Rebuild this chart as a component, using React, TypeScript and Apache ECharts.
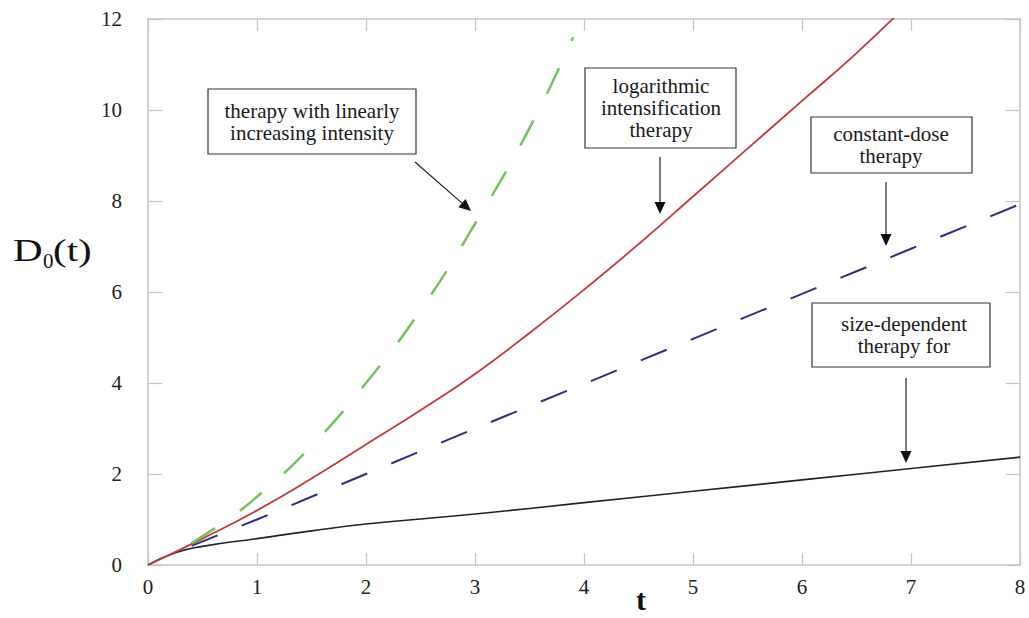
import React, { useEffect, useRef } from "react";
import * as echarts from "echarts";

// ---- data ----
const xTicks = [0, 1, 2, 3, 4, 5, 6, 7, 8];
const yTicks = [0, 2, 4, 6, 8, 10, 12];

// therapy with linearly increasing intensity (green dashed)
const linearT = [0.4, 0.7, 1.0, 1.5, 2.0, 2.5, 3.0, 3.5, 3.9];
const linearD = [0.48, 0.95, 1.5, 2.62, 4.0, 5.6, 7.5, 9.6, 11.6];

// logarithmic intensification therapy (red solid)
const logT = [0, 0.5, 1, 1.5, 2, 2.5, 3, 3.5, 4, 4.5, 5, 5.5, 6, 6.5, 7];
const logD = [0, 0.58, 1.2, 1.9, 2.65, 3.4, 4.2, 5.1, 6.05, 7.05, 8.1, 9.15, 10.2, 11.25, 12.4];

// constant-dose therapy (blue dashed)
const constT = [0.4, 1, 2, 3, 4, 5, 6, 7, 8];
const constD = [0.42, 1.0, 2.0, 3.0, 3.98, 4.97, 5.96, 6.95, 7.93];

// size-dependent therapy (black solid)
const sizeT = [0, 0.25, 0.5, 1, 1.5, 2, 3, 4, 5, 6, 7, 8];
const sizeD = [0, 0.27, 0.41, 0.58, 0.75, 0.9, 1.12, 1.37, 1.62, 1.87, 2.12, 2.37];

const pairs = (xs: number[], ys: number[]) => xs.map((x, i) => [x, ys[i]]);

const SERIF = "'Liberation Serif', 'Times New Roman', Times, serif";

export default function App() {
  const ref = useRef<HTMLDivElement>(null);
  useEffect(() => {
    if (!ref.current) return;
    const chart = echarts.init(ref.current, null, { renderer: "svg" });

    const axisGrey = "#c4c4c4";
    const box = (x: number, y: number, w: number, h: number) => ({
      type: "rect",
      shape: { x, y, width: w, height: h },
      style: { fill: "#fff", stroke: "#333", lineWidth: 1.2 },
      z: 10,
    });
    const label = (cx: number, cy: number, text: string) => ({
      type: "text",
      x: cx,
      y: cy,
      z: 11,
      style: {
        text,
        fill: "#1a1a1a",
        fontFamily: SERIF,
        fontSize: 21,
        align: "center",
        verticalAlign: "middle",
        lineHeight: 22,
      },
    });
    const arrow = (x1: number, y1: number, x2: number, y2: number) => {
      const dx = x2 - x1;
      const dy = y2 - y1;
      const len = Math.sqrt(dx * dx + dy * dy);
      const ux = dx / len;
      const uy = dy / len;
      const hl = 12;
      const hw = 5.5;
      const bx = x2 - ux * hl;
      const by = y2 - uy * hl;
      return [
        {
          type: "line",
          z: 10,
          shape: { x1, y1, x2: bx, y2: by },
          style: { stroke: "#222", lineWidth: 1.2 },
        },
        {
          type: "polygon",
          z: 10,
          shape: {
            points: [
              [x2, y2],
              [bx - uy * hw, by + ux * hw],
              [bx + uy * hw, by - ux * hw],
            ],
          },
          style: { fill: "#111" },
        },
      ];
    };

    chart.setOption({
      animation: false,
      backgroundColor: "#fff",
      textStyle: { fontFamily: SERIF },
      grid: { left: 148, right: 9, top: 19, bottom: 53, containLabel: false },
      xAxis: [
        {
          type: "value",
          min: xTicks[0],
          max: xTicks[xTicks.length - 1],
          interval: 1,
          axisLine: { show: true, onZero: false, lineStyle: { color: axisGrey, width: 1.5 } },
          axisTick: { show: true, inside: true, length: 12, lineStyle: { color: axisGrey, width: 1.2 } },
          axisLabel: {
            color: "#222",
            fontFamily: SERIF,
            fontSize: 21,
            margin: 11,
          },
          splitLine: { show: false },
        },
        {
          type: "value",
          position: "top",
          min: xTicks[0],
          max: xTicks[xTicks.length - 1],
          interval: 1,
          axisLine: { show: true, onZero: false, lineStyle: { color: axisGrey, width: 1.5 } },
          axisTick: { show: true, inside: true, length: 12, lineStyle: { color: axisGrey, width: 1.2 } },
          axisLabel: { show: false },
          splitLine: { show: false },
        },
      ],
      yAxis: [
        {
          type: "value",
          min: yTicks[0],
          max: yTicks[yTicks.length - 1],
          interval: 2,
          axisLine: { show: true, onZero: false, lineStyle: { color: axisGrey, width: 1.5 } },
          axisTick: { show: true, inside: true, length: 14, lineStyle: { color: axisGrey, width: 1.2 } },
          axisLabel: {
            color: "#222",
            fontFamily: SERIF,
            fontSize: 21,
            margin: 26,
          },
          splitLine: { show: false },
        },
        {
          type: "value",
          position: "right",
          min: yTicks[0],
          max: yTicks[yTicks.length - 1],
          interval: 2,
          axisLine: { show: true, onZero: false, lineStyle: { color: axisGrey, width: 1.5 } },
          axisTick: { show: true, inside: true, length: 14, lineStyle: { color: axisGrey, width: 1.2 } },
          axisLabel: { show: false },
          splitLine: { show: false },
        },
      ],
      series: [
        {
          name: "size-dependent therapy",
          type: "line",
          data: pairs(sizeT, sizeD),
          showSymbol: false,
          smooth: true,
          lineStyle: { color: "#222", width: 1.6 },
          z: 3,
        },
        {
          name: "constant-dose therapy",
          type: "line",
          data: pairs(constT, constD),
          showSymbol: false,
          lineStyle: { color: "#2e2e80", width: 2, type: [28, 26] },
          z: 4,
        },
        {
          name: "logarithmic intensification therapy",
          type: "line",
          data: pairs(logT, logD),
          showSymbol: false,
          smooth: true,
          clip: true,
          lineStyle: { color: "#c23a3c", width: 1.8 },
          z: 5,
        },
        {
          name: "therapy with linearly increasing intensity",
          type: "line",
          data: pairs(linearT, linearD),
          showSymbol: false,
          smooth: true,
          lineStyle: { color: "#72c25e", width: 2.5, type: [28, 30] },
          z: 6,
        },
      ],
      graphic: [
        box(208, 89, 208, 65),
        label(312, 122, "therapy with linearly\nincreasing intensity"),
        ...arrow(415, 162, 471, 211),
        box(585, 68, 151, 80),
        label(661, 108, "logarithmic\nintensification\ntherapy"),
        ...arrow(660, 157, 660, 214),
        box(811, 117, 161, 56),
        label(891, 145, "constant-dose\ntherapy"),
        ...arrow(886, 182, 886, 246),
        box(812, 303, 178, 64),
        label(904, 335, "size-dependent\ntherapy for"),
        ...arrow(906, 378, 906, 463),
        {
          type: "text",
          x: 13,
          y: 250,
          scaleX: 1.28,
          style: { text: "D", fontFamily: SERIF, fontSize: 32, fill: "#111", verticalAlign: "middle" },
        },
        {
          type: "text",
          x: 43,
          y: 261,
          style: { text: "0", fontFamily: SERIF, fontSize: 21, fill: "#111", verticalAlign: "middle" },
        },
        {
          type: "text",
          x: 53,
          y: 250,
          scaleX: 1.28,
          style: { text: "(t)", fontFamily: SERIF, fontSize: 32, fill: "#111", verticalAlign: "middle" },
        },
        {
          type: "text",
          x: 641,
          y: 599,
          style: {
            text: "t",
            fontFamily: SERIF,
            fontSize: 30,
            fontWeight: "bold",
            fill: "#111",
            align: "center",
            verticalAlign: "middle",
          },
        },
      ],
    });
    return () => chart.dispose();
  }, []);
  return <div ref={ref} style={{ width: 1029, height: 618, position: "absolute", left: 0, top: 0 }} />;
}
